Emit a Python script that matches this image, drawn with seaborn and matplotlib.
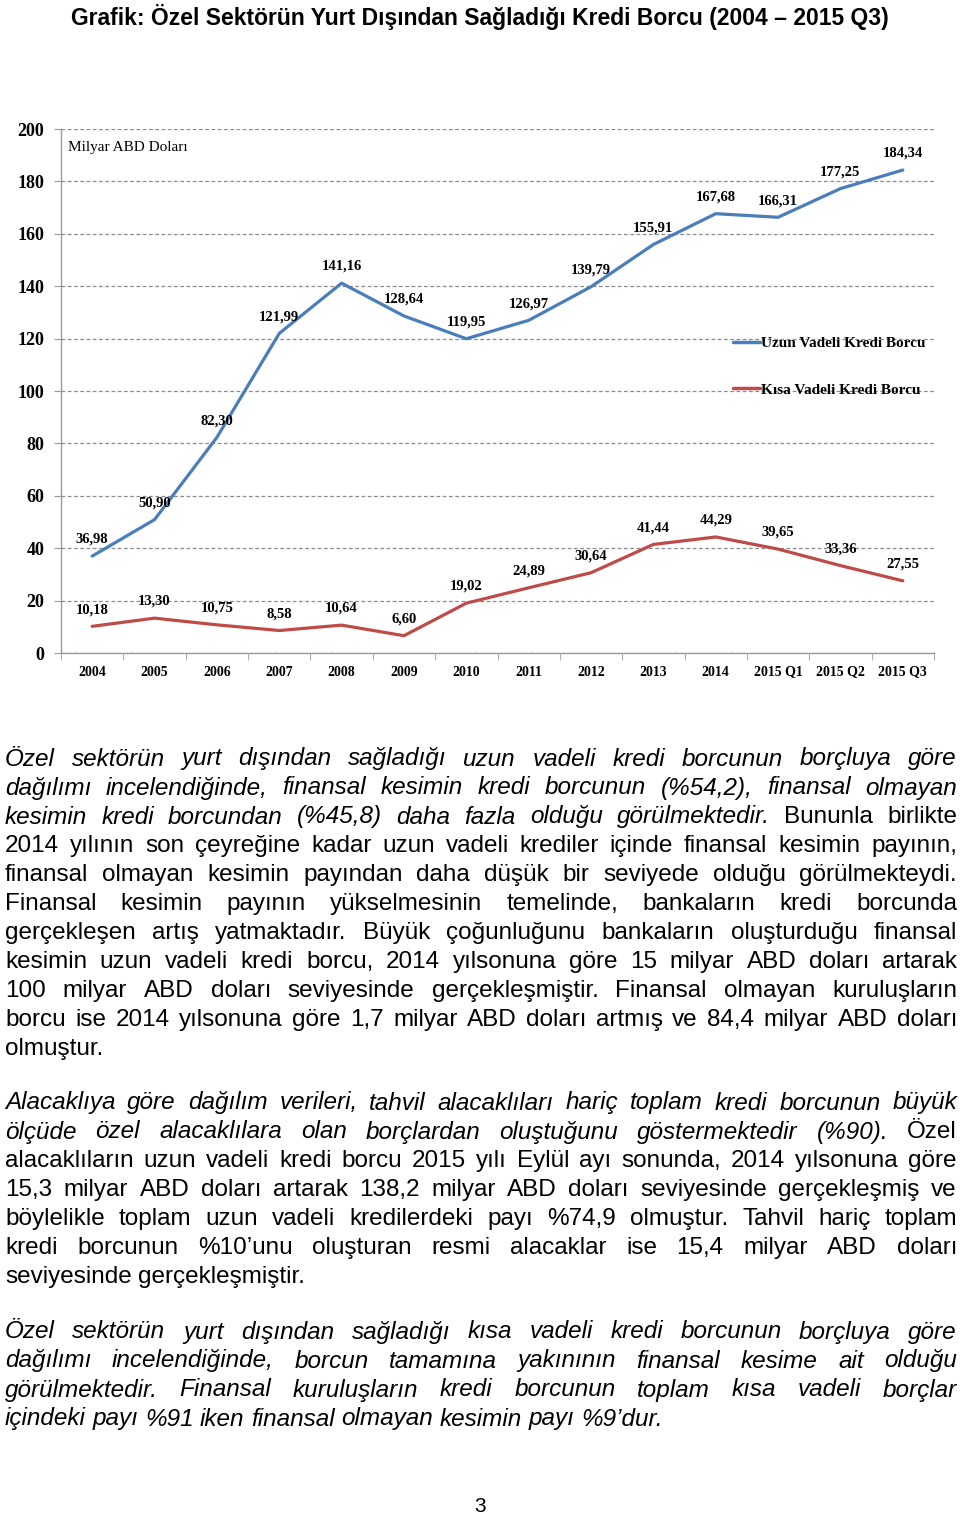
import numpy as np
import pandas as pd
import matplotlib
matplotlib.use('Agg')
import matplotlib.pyplot as plt
from matplotlib.lines import Line2D
import seaborn as sns

# Chart data (milyar ABD doları)
donemler = ['2004', '2005', '2006', '2007', '2008', '2009', '2010', '2011',
            '2012', '2013', '2014', '2015 Q1', '2015 Q2', '2015 Q3']
uzun_vadeli = [36.98, 50.90, 82.30, 121.99, 141.16, 128.64, 119.95, 126.97,
               139.79, 155.91, 167.68, 166.31, 177.25, 184.34]
kisa_vadeli = [10.18, 13.30, 10.75, 8.58, 10.64, 6.60, 19.02, 24.89,
               30.64, 41.44, 44.29, 39.65, 33.36, 27.55]
seri_adlari = ['Uzun Vadeli Kredi Borcu', 'Kısa Vadeli Kredi Borcu']
renkler = ['#4A7EBB', '#BE4B48']
y_ticks = list(range(0, 201, 20))

baslik = 'Grafik: Özel Sektörün Yurt Dışından Sağladığı Kredi Borcu (2004 – 2015 Q3)'
birim = 'Milyar ABD Doları'

# Body text: each line is a list of (text, style) parts
paragraf1 = [
    [('Özel sektörün yurt dışından sağladığı uzun vadeli kredi borcunun borçluya göre', 'italic')],
    [('dağılımı incelendiğinde, finansal kesimin kredi borcunun (%54,2), finansal olmayan', 'italic')],
    [('kesimin kredi borcundan (%45,8) daha fazla olduğu görülmektedir.', 'italic'), ('Bununla birlikte', 'normal')],
    [('2014 yılının son çeyreğine kadar uzun vadeli krediler içinde finansal kesimin payının,', 'normal')],
    [('finansal olmayan kesimin payından daha düşük bir seviyede olduğu görülmekteydi.', 'normal')],
    [('Finansal kesimin payının yükselmesinin temelinde, bankaların kredi borcunda', 'normal')],
    [('gerçekleşen artış yatmaktadır. Büyük çoğunluğunu bankaların oluşturduğu finansal', 'normal')],
    [('kesimin uzun vadeli kredi borcu, 2014 yılsonuna göre 15 milyar ABD doları artarak', 'normal')],
    [('100 milyar ABD doları seviyesinde gerçekleşmiştir. Finansal olmayan kuruluşların', 'normal')],
    [('borcu ise 2014 yılsonuna göre 1,7 milyar ABD doları artmış ve 84,4 milyar ABD doları', 'normal')],
    [('olmuştur.', 'normal')],
]
paragraf2 = [
    [('Alacaklıya göre dağılım verileri, tahvil alacaklıları hariç toplam kredi borcunun büyük', 'italic')],
    [('ölçüde özel alacaklılara olan borçlardan oluştuğunu göstermektedir (%90).', 'italic'), ('Özel', 'normal')],
    [('alacaklıların uzun vadeli kredi borcu 2015 yılı Eylül ayı sonunda, 2014 yılsonuna göre', 'normal')],
    [('15,3 milyar ABD doları artarak 138,2 milyar ABD doları seviyesinde gerçekleşmiş ve', 'normal')],
    [('böylelikle toplam uzun vadeli kredilerdeki payı %74,9 olmuştur. Tahvil hariç toplam', 'normal')],
    [('kredi borcunun %10’unu oluşturan resmi alacaklar ise 15,4 milyar ABD doları', 'normal')],
    [('seviyesinde gerçekleşmiştir.', 'normal')],
]
paragraf3 = [
    [('Özel sektörün yurt dışından sağladığı kısa vadeli kredi borcunun borçluya göre', 'italic')],
    [('dağılımı incelendiğinde, borcun tamamına yakınının finansal kesime ait olduğu', 'italic')],
    [('görülmektedir. Finansal kuruluşların kredi borcunun toplam kısa vadeli borçlar', 'italic')],
    [('içindeki payı %91 iken finansal olmayan kesimin payı %9’dur.', 'italic')],
]

W, H = 960, 1517
df = pd.DataFrame({
    'donem_no': np.tile(np.arange(len(donemler)), 2),
    'deger': uzun_vadeli + kisa_vadeli,
    'seri': np.repeat(seri_adlari, len(donemler)),
})

sns.set_style('white')
plt.rcParams['text.color'] = 'black'
plt.rcParams['xtick.labelcolor'] = 'black'
plt.rcParams['ytick.labelcolor'] = 'black'
serif = 'Liberation Serif'
sans = 'Liberation Sans'

fig = plt.figure(figsize=(W / 100, H / 100), dpi=100)
ax = fig.add_axes([61 / W, 1 - 653 / H, 873 / W, 524 / H])
sns.lineplot(data=df, x='donem_no', y='deger', hue='seri',
             palette=dict(zip(seri_adlari, renkler)), linewidth=2.3,
             ax=ax, legend=False)

ax.set_xlim(-0.5, len(donemler) - 0.5)
ax.set_ylim(0, 200)
ax.set_xlabel('')
ax.set_ylabel('')

ax.set_yticks(y_ticks)
ax.set_yticklabels([str(v) for v in y_ticks], fontsize=13, fontweight='bold', family=serif)
ax.yaxis.grid(True, linestyle=(0, (3, 2)), color='#8c8c8c', linewidth=0.9)
ax.set_axisbelow(True)
ax.tick_params(axis='y', length=5, color='#9a9a9a', pad=7, left=True)

ax.set_xticks(np.arange(len(donemler)))
ax.set_xticklabels(donemler, fontsize=10, fontweight='bold', family=serif)
ax.set_xticks(np.arange(len(donemler) + 1) - 0.5, minor=True)
ax.tick_params(axis='x', which='major', length=0, pad=9)
ax.tick_params(axis='x', which='minor', length=5, color='#9a9a9a', bottom=True)

for s in ['top', 'right']:
    ax.spines[s].set_visible(False)
for s in ['left', 'bottom']:
    ax.spines[s].set_color('#9a9a9a')
    ax.spines[s].set_linewidth(1)

# data labels
for seri in (uzun_vadeli, kisa_vadeli):
    for i, v in enumerate(seri):
        ax.annotate(f'{v:.2f}'.replace('.', ','), (i, v), xytext=(0, 12),
                    textcoords='offset points', ha='center', va='center',
                    fontsize=10.5, fontweight='bold', family=serif)

ax.text(0.008, 0.978, birim, transform=ax.transAxes, ha='left', va='top',
        fontsize=11, family=serif)

handles = [Line2D([], [], color=c, linewidth=2.5) for c in renkler]
ax.legend(handles, seri_adlari, loc='upper left', bbox_to_anchor=(0.77, 0.604),
          frameon=False, borderpad=0, borderaxespad=0, handlelength=1.75,
          handletextpad=0.1, labelspacing=2.15,
          prop={'family': serif, 'weight': 'bold', 'size': 11})

fig.text(0.5, 1 - 17 / H, baslik, ha='center', va='center', fontsize=16.5,
         fontweight='bold', family=sans, color='black')

# justified body text
renderer = fig.canvas.get_renderer()
sol, sag = 5, 957


def metin_satiri(parcalar, y, yasla=True, boyut=17.5):
    kelimeler = []
    for metin, stil in parcalar:
        for k in metin.split():
            kelimeler.append((k, stil))
    nesneler = [fig.text(0, 1 - y / H, k, fontsize=boyut, family=sans,
                         style=stil, ha='left', va='center', color='black')
                for k, stil in kelimeler]
    genislik = [n.get_window_extent(renderer).width for n in nesneler]
    if yasla and len(nesneler) > 1:
        bosluk = (sag - sol - sum(genislik)) / (len(nesneler) - 1)
    else:
        bosluk = 0.27 * boyut * 100 / 72
    x = sol
    for n, g in zip(nesneler, genislik):
        n.set_x(x / W)
        x += g + bosluk


for paragraf, y0 in ((paragraf1, 759), (paragraf2, 1103), (paragraf3, 1332)):
    for j, satir in enumerate(paragraf):
        metin_satiri(satir, y0 + 29 * j, yasla=(j < len(paragraf) - 1))

fig.text(0.5, 1 - 1507 / H, '3', ha='center', va='center', fontsize=15,
         family=sans, color='black')

fig.savefig('out.png', dpi=100)
